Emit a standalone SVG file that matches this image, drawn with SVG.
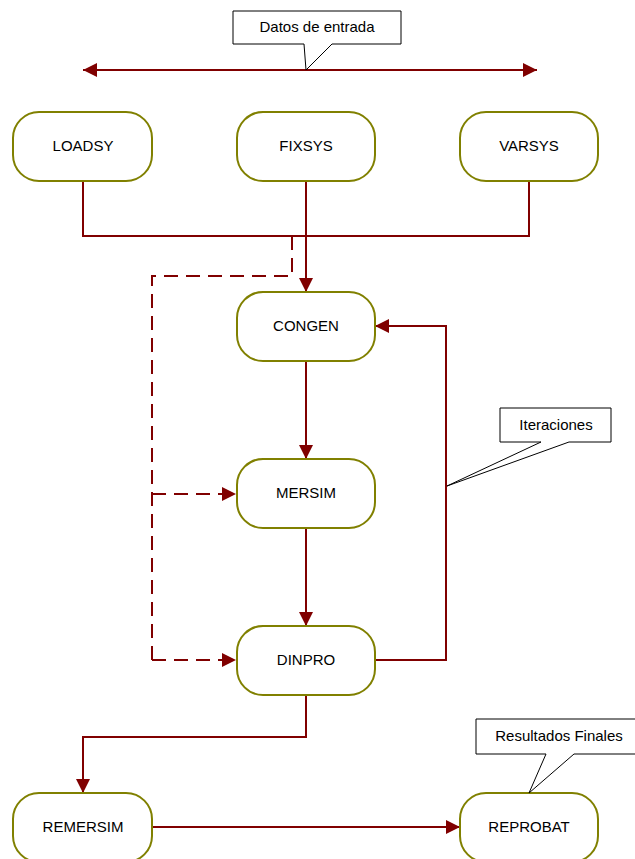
<svg xmlns="http://www.w3.org/2000/svg" width="635" height="859" viewBox="0 0 635 859">
<defs>
<marker id="ah" viewBox="0 0 14 14" refX="14" refY="7" markerWidth="14" markerHeight="14" markerUnits="userSpaceOnUse" orient="auto-start-reverse">
<path d="M0,0 L14,7 L0,14 Z" fill="#800000"/>
</marker>
<style>
.node rect{fill:#fff;stroke:#808000;stroke-width:2}
text{font-family:"Liberation Sans",Arial,sans-serif;font-size:15px;fill:#000;text-anchor:middle}
.c{fill:none;stroke:#800000;stroke-width:2}
.d{stroke-dasharray:14,8}
.call{fill:#fff;stroke:#000;stroke-width:1}
</style>
</defs>
<rect width="635" height="859" fill="#fff"/>
<g id="connectors">
<path class="c" d="M83,70 H537" marker-start="url(#ah)" marker-end="url(#ah)"/>
<path class="c" d="M83,181 V236 H529 V181"/>
<path class="c" d="M306,181 V292" marker-end="url(#ah)"/>
<path class="c d" d="M292,236 V276 H152 V660"/>
<path class="c d" d="M152,494 H236" marker-end="url(#ah)"/>
<path class="c d" d="M152,660 H236" marker-end="url(#ah)"/>
<path class="c" d="M306,361 V459" marker-end="url(#ah)"/>
<path class="c" d="M306,528 V626" marker-end="url(#ah)"/>
<path class="c" d="M375,660 H446 V326 H375" marker-end="url(#ah)"/>
<path class="c" d="M306,695 V737 H83 V793" marker-end="url(#ah)"/>
<path class="c" d="M152,827 H460" marker-end="url(#ah)"/>
</g>
<g id="n-loadsy" class="node"><rect x="13" y="112" width="139" height="69" rx="26"/><text x="83" y="151">LOADSY</text></g>
<g id="n-fixsys" class="node"><rect x="237" y="112" width="138" height="69" rx="26"/><text x="306" y="151">FIXSYS</text></g>
<g id="n-varsys" class="node"><rect x="460" y="112" width="138" height="69" rx="26"/><text x="529" y="151">VARSYS</text></g>
<g id="n-congen" class="node"><rect x="237" y="292" width="138" height="69" rx="26"/><text x="306" y="331">CONGEN</text></g>
<g id="n-mersim" class="node"><rect x="237" y="459" width="138" height="69" rx="26"/><text x="306" y="498">MERSIM</text></g>
<g id="n-dinpro" class="node"><rect x="237" y="626" width="138" height="69" rx="26"/><text x="306" y="665">DINPRO</text></g>
<g id="n-remersim" class="node"><rect x="13" y="793" width="139" height="69" rx="26"/><text x="83" y="832">REMERSIM</text></g>
<g id="n-reprobat" class="node"><rect x="460" y="793" width="138" height="69" rx="26"/><text x="529" y="832">REPROBAT</text></g>
<g id="callout-datos">
<path class="call" d="M233,11 H401 V44 H332 L306,70 L304,44 H233 Z"/>
<text x="317" y="32">Datos de entrada</text>
</g>
<g id="callout-iter">
<path class="call" d="M500,408 H611 V442 H569 L447,486 L541,442 H500 Z"/>
<text x="556" y="430">Iteraciones</text>
</g>
<g id="callout-result">
<path class="call" d="M476,719 H640 V754 H574 L529,793 L546,754 H476 Z"/>
<text x="559" y="741">Resultados Finales</text>
</g>
</svg>
